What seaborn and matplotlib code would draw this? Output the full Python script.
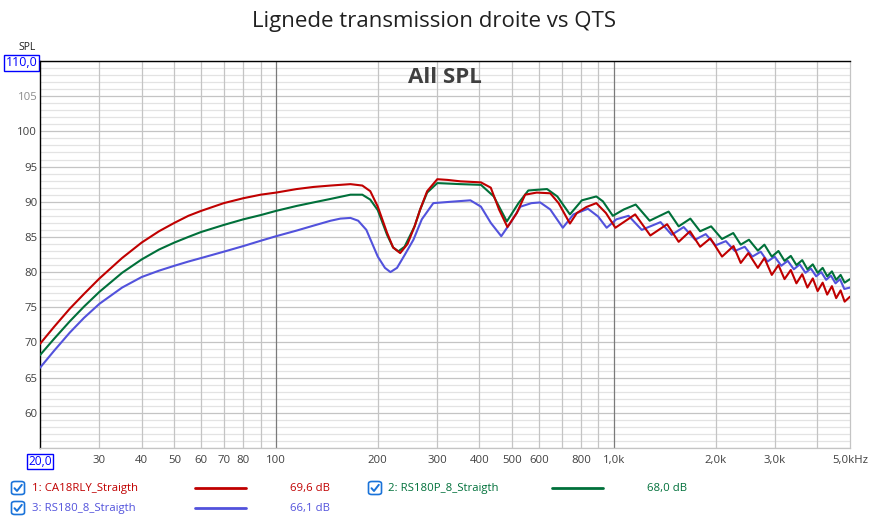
import numpy as np
import pandas as pd
import seaborn as sns
import matplotlib.pyplot as plt
from matplotlib.lines import Line2D
from matplotlib.patches import FancyBboxPatch

sns.set_theme(style='white')
plt.rcParams['font.family'] = ['Open Sans', 'DejaVu Sans']

# ---------------- data ----------------
names = ["1: CA18RLY_Straigth", "2: RS180P_8_Straigth", "3: RS180_8_Straigth"]
values_txt = ["69,6 dB", "68,0 dB", "66,1 dB"]
colors = ["#c00000", "#00703a", "#5252dc"]

freq_red = [20, 22, 24.5, 27, 30, 35, 40, 45, 50, 55, 60, 70, 80, 90, 100, 115, 129, 145, 166, 180,
            190, 200, 213, 222, 233, 245, 257, 267, 280, 300, 322, 351, 404, 432, 457, 484, 516, 546,
            591, 648, 686, 741, 777, 829, 887, 947, 1010, 1156, 1282, 1437, 1555, 1680, 1800, 1930,
            2090, 2260, 2374, 2500, 2668, 2790, 2934, 3070, 3200, 3340, 3470, 3610, 3740, 3880,
            4010, 4150, 4280, 4420, 4550, 4690, 4820, 5000]
spl_red = [69.8, 72.2, 74.8, 76.9, 79.1, 82.0, 84.2, 85.8, 87.0, 88.0, 88.7, 89.8, 90.5, 91.0, 91.3,
           91.8, 92.1, 92.3, 92.5, 92.3, 91.5, 89.3, 85.6, 83.5, 82.7, 84.0, 86.5, 88.9, 91.5, 93.2,
           93.1, 92.9, 92.75, 92.0, 88.9, 86.4, 88.4, 91.0, 91.3, 91.2, 89.8, 86.9, 88.4, 89.25,
           89.8, 88.4, 86.3, 88.2, 85.2, 86.8, 84.3, 85.8, 83.6, 84.8, 82.2, 83.7, 81.3, 82.7, 80.6,
           82.0, 79.6, 81.0, 79.0, 80.3, 78.4, 79.7, 77.8, 79.1, 77.3, 78.5, 76.8, 78.0, 76.3, 77.4,
           75.8, 76.5]

freq_green = [20, 22, 24.5, 27, 30, 35, 40, 45, 50, 55, 60, 70, 80, 90, 100, 115, 129, 145, 166, 180,
              190, 200, 213, 222, 230, 240, 257, 267, 280, 300, 351, 404, 441, 482, 522, 558, 634,
              680, 741, 804, 887, 928, 993, 1070, 1160, 1276, 1452, 1555, 1684, 1800, 1940, 2089,
              2256, 2374, 2511, 2668, 2790, 2934, 3070, 3200, 3340, 3470, 3610, 3740, 3880, 4010,
              4150, 4280, 4420, 4550, 4690, 4820, 5000]
spl_green = [68.2, 70.5, 73.0, 75.1, 77.2, 79.9, 81.8, 83.2, 84.2, 85.0, 85.7, 86.7, 87.5, 88.1, 88.7,
             89.4, 89.9, 90.4, 91.0, 91.0, 90.3, 88.8, 85.3, 83.5, 82.95, 83.6, 86.5, 88.9, 91.3,
             92.65, 92.5, 92.4, 90.75, 87.2, 89.8, 91.6, 91.8, 90.75, 88.2, 90.2, 90.75, 90.05,
             88.0, 88.9, 89.6, 87.3, 88.6, 86.5, 87.6, 85.8, 86.5, 84.7, 85.55, 83.9, 84.6, 83.05,
             83.9, 82.2, 83.0, 81.6, 82.3, 81.0, 81.7, 80.4, 81.1, 79.9, 80.6, 79.4, 80.1, 78.9,
             79.6, 78.5, 79.0]

freq_blue = [20, 22, 24.5, 27, 30, 35, 40, 45, 50, 55, 60, 70, 80, 90, 100, 115, 129, 145, 155,
             166, 175, 185, 200, 210, 218, 228, 240, 255, 270, 292, 330, 376, 404, 432, 464, 494,
             529, 570, 605, 648, 706, 759, 838, 898, 952, 1017, 1105, 1209, 1374, 1483, 1609, 1740,
             1870, 2000, 2145, 2280, 2440, 2570, 2720, 2850, 2990, 3130, 3270, 3410, 3550, 3690,
             3830, 3970, 4110, 4250, 4390, 4530, 4670, 4810, 5000]
spl_blue = [66.4, 68.8, 71.4, 73.5, 75.5, 77.8, 79.3, 80.2, 80.9, 81.5, 82.0, 82.9, 83.7, 84.45,
            85.1, 85.9, 86.6, 87.3, 87.6, 87.7, 87.3, 86.0, 82.2, 80.6, 80.0, 80.6, 82.4, 84.6, 87.5,
            89.8, 90.0, 90.2, 89.3, 87.0, 85.1, 87.0, 89.3, 89.8, 89.9, 88.9, 86.3, 88.2, 89.0, 87.9,
            86.3, 87.5, 88.0, 86.0, 87.1, 85.3, 86.4, 84.6, 85.4, 83.8, 84.4, 83.0, 83.6, 82.2, 82.9,
            81.5, 82.2, 80.9, 81.6, 80.4, 81.1, 79.9, 80.5, 79.4, 80.0, 78.9, 79.5, 78.4, 79.0, 77.6,
            77.8]

x_tick_vals = [20, 30, 40, 50, 60, 70, 80, 100, 200, 300, 400, 500, 600, 800, 1000, 2000, 3000, 5000]
x_tick_labels = ["20,0", "30", "40", "50", "60", "70", "80", "100", "200", "300", "400", "500",
                 "600", "800", "1,0k", "2,0k", "3,0k", "5,0kHz"]
y_tick_vals = [60, 65, 70, 75, 80, 85, 90, 95, 100, 105, 110]
y_tick_labels = ["60", "65", "70", "75", "80", "85", "90", "95", "100", "105", "110,0"]

df = pd.concat([
    pd.DataFrame({"freq": freq_blue, "spl": spl_blue, "series": names[2]}),
    pd.DataFrame({"freq": freq_green, "spl": spl_green, "series": names[1]}),
    pd.DataFrame({"freq": freq_red, "spl": spl_red, "series": names[0]}),
])

# ---------------- figure ----------------
fig = plt.figure(figsize=(8.69, 5.2), dpi=100)
ax = fig.add_axes([40 / 869, 1 - 448 / 520, 810 / 869, 387 / 520])
ax.set_facecolor("white")

# grid
for v in range(56, 110):
    if v % 5:
        ax.axhline(v, color="#e3e3e3", lw=0.9, zorder=0)
for v in range(55, 111, 5):
    ax.axhline(v, color="#c4c4c4", lw=0.9, zorder=0)
grid_x = [30, 40, 50, 60, 70, 80, 90, 200, 300, 400, 500, 600, 700, 800, 900, 2000, 3000, 4000]
for v in grid_x:
    ax.axvline(v, color="#c4c4c4", lw=0.9, zorder=0)
for v in [100, 1000]:
    ax.axvline(v, color="#7a7a7a", lw=0.9, zorder=0)

palette = {names[0]: colors[0], names[1]: colors[1], names[2]: colors[2]}
sns.lineplot(data=df, x="freq", y="spl", hue="series", palette=palette, estimator=None,
             sort=False, lw=1.5, legend=False, ax=ax, zorder=3)
for ln in ax.lines:
    ln.set_solid_joinstyle("round")
    ln.set_solid_capstyle("round")

ax.set_xscale("log")
ax.set_xlim(20, 5000)
ax.set_ylim(55, 110)
ax.set_xticks(x_tick_vals)
ax.set_xticklabels(x_tick_labels)
ax.xaxis.set_minor_locator(plt.NullLocator())
ax.set_yticks(y_tick_vals)
ax.set_yticklabels(y_tick_labels)
ax.tick_params(axis="both", length=0, labelsize=8.2, colors="#404040")
ax.tick_params(axis="x", pad=5)
ax.tick_params(axis="y", pad=2)
ax.set_xlabel("")
ax.set_ylabel("")

for lab in ax.get_yticklabels():
    if lab.get_text() == "105":
        lab.set_color("#8c8c8c")
    if lab.get_text() == "110,0":
        lab.set_color("#0000ff")
        lab.set_fontsize(9)
        lab.set_bbox(dict(boxstyle="square,pad=0.12", fc="white", ec="#0000ff", lw=1))
for lab in ax.get_xticklabels():
    if lab.get_text() == "20,0":
        lab.set_color("#0000ff")
        lab.set_fontsize(8.6)
        lab.set_bbox(dict(boxstyle="square,pad=0.12", fc="white", ec="#0000ff", lw=1))

for s in ["left", "top"]:
    ax.spines[s].set_color("black")
    ax.spines[s].set_linewidth(1.0)
for s in ["right", "bottom"]:
    ax.spines[s].set_color("#c4c4c4")
    ax.spines[s].set_linewidth(0.9)

ax.text(0.5, 0.958, "All SPL", transform=ax.transAxes, ha="center", va="center",
        fontsize=16, fontweight="bold", color="#404040")

fig.text(434 / 869, 1 - 22 / 520, "Lignede transmission droite vs QTS", ha="center", va="center",
         fontsize=16, color="#202020")
fig.text(27 / 869, 1 - 47 / 520, "SPL", ha="center", va="center", fontsize=7.5, color="#202020")

# ---------------- legend ----------------
def px(x, y):
    return x / 869, 1 - y / 520

rows = [(18, 32, 195, 246, 330, 488), (375, 388, 552, 603, 687, 488), (18, 32, 195, 246, 330, 508)]
for i, (cbx, tx, l0, l1, vx, yy) in enumerate(rows):
    bx, by = px(cbx - 6.5, yy + 6.5)
    fig.add_artist(FancyBboxPatch((bx, by), 13 / 869, 13 / 520,
                                  boxstyle="round,pad=0,rounding_size=0.004",
                                  fc="white", ec="#1a73d9", lw=1.2, transform=fig.transFigure))
    cx = [cbx - 3.5, cbx - 1, cbx + 3.8]
    cy = [yy + 0.2, yy + 3, yy - 3.2]
    fig.add_artist(Line2D([c / 869 for c in cx], [1 - c / 520 for c in cy], color="#1a73d9",
                          lw=1.4, transform=fig.transFigure, solid_capstyle="round",
                          solid_joinstyle="round"))
    fig.text(*px(tx, yy), names[i], ha="left", va="center", fontsize=8.2, color=colors[i])
    x0, y0 = px(l0, yy)
    x1, _ = px(l1, yy)
    fig.add_artist(Line2D([x0, x1], [y0, y0], color=colors[i], lw=2.0, transform=fig.transFigure))
    fig.text(*px(vx, yy), values_txt[i], ha="right", va="center", fontsize=8.2, color=colors[i])

fig.savefig("out.png", dpi=100, facecolor="white")
